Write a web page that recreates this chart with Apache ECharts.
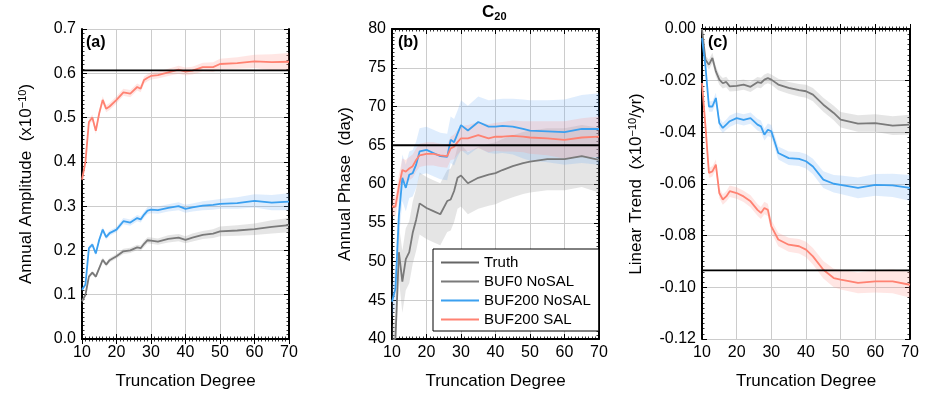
<!DOCTYPE html>
<html>
<head>
<meta charset="utf-8">
<script src="https://cdn.jsdelivr.net/npm/echarts@6/dist/echarts.min.js"></script>
<style>html,body{margin:0;padding:0;background:#fff}#main{width:932px;height:400px}</style>
</head>
<body>
<div id="main"></div>
<script>
// 截断阶数
var degrees = [10,11,12,13,14,15,16,17,18,20,22,24,26,27,28,29,30,32,35,38,40,42,45,48,50,55,60,65,70];

// (a) 年振幅
var ampTruth = 0.6065;
var ampBuf0 = [0.085,0.10,0.141,0.15,0.141,0.16,0.179,0.168,0.178,0.187,0.198,0.20,0.207,0.205,0.215,0.223,0.222,0.22,0.226,0.229,0.224,0.229,0.235,0.238,0.243,0.245,0.248,0.253,0.257];
var ampBuf200 = [0.111,0.123,0.205,0.213,0.193,0.224,0.247,0.23,0.239,0.247,0.266,0.263,0.273,0.27,0.281,0.29,0.292,0.291,0.296,0.30,0.294,0.297,0.301,0.303,0.305,0.307,0.312,0.308,0.31];
var ampSal = [0.36,0.40,0.49,0.50,0.47,0.51,0.54,0.52,0.525,0.54,0.557,0.554,0.569,0.565,0.585,0.59,0.594,0.596,0.602,0.608,0.604,0.606,0.614,0.614,0.621,0.623,0.627,0.625,0.626];
var ampBuf0Err = [0.004,0.004,0.004,0.004,0.004,0.005,0.005,0.005,0.005,0.005,0.006,0.006,0.006,0.006,0.007,0.007,0.007,0.007,0.008,0.008,0.008,0.009,0.009,0.01,0.011,0.012,0.013,0.015,0.016];
var ampBuf200Err = [0.004,0.004,0.005,0.005,0.005,0.005,0.006,0.006,0.006,0.006,0.007,0.007,0.007,0.007,0.007,0.008,0.008,0.008,0.008,0.009,0.009,0.009,0.01,0.011,0.011,0.013,0.015,0.017,0.019];
var ampSalErr = [0.005,0.006,0.007,0.007,0.007,0.008,0.008,0.008,0.008,0.008,0.008,0.008,0.008,0.008,0.008,0.008,0.008,0.008,0.008,0.009,0.009,0.009,0.01,0.011,0.012,0.013,0.015,0.018,0.02];

// (b) 年相位
var phTruth = 65;
var phBuf0 = [39.7,40.1,51.2,47.4,50.3,51.2,53.7,55.4,57.5,56.9,56.5,56.1,57.8,58,59.1,60.8,61.1,60.1,60.8,61.2,61.4,61.8,62.3,62.7,62.9,63.2,63.2,63.6,63.1];
var phBuf200 = [44.8,46.5,55.9,60.8,59.5,61.2,61.4,62.5,64.2,64.4,64,63.6,63.5,65.7,65.4,66.5,67.6,66.9,68,67.4,67.4,67.5,67.4,67.1,66.9,66.8,66.7,67.1,67.1];
var phSal = [57.1,57.1,59.7,61.8,61.6,62,62.3,63.1,63.7,63.9,63.9,63.7,63.6,64.6,64.8,65.4,65.9,65.9,66.3,65.9,66.1,66.1,66.2,66.1,66,65.9,65.7,66,66.1];
var phBuf0Err = [2,2.5,3.5,4,4,4,4,4,4,4,4,4,4,4,4,4,4,4,4,4,4,4,4,4,4,4,4,4,4.2];
var phBuf200Err = [2,2.5,3,3,3,3,3,3,3,3,3,3,3,3,3,3,3.2,3.2,3.3,3.4,3.5,3.5,3.6,3.8,3.9,4,4.2,4.4,4.6];
var phSalErr = [1.2,1.3,1.5,1.5,1.5,1.5,1.5,1.5,1.5,1.5,1.5,1.5,1.5,1.5,1.6,1.6,1.6,1.7,1.7,1.8,1.8,1.9,2,2,2.1,2.2,2.4,2.5,2.6];

// (c) 线性趋势
var trTruth = -0.0934;
var trBuf0 = [0,-0.0119,-0.0138,-0.0112,-0.0164,-0.0196,-0.021,-0.0205,-0.0222,-0.022,-0.0215,-0.0224,-0.0206,-0.0209,-0.0196,-0.019,-0.0196,-0.0215,-0.0228,-0.0237,-0.0241,-0.0254,-0.0293,-0.0325,-0.0351,-0.0366,-0.0364,-0.0374,-0.037];
var trBuf200 = [-0.0035,-0.0145,-0.030,-0.030,-0.0267,-0.0364,-0.0383,-0.037,-0.0357,-0.0345,-0.0352,-0.0345,-0.037,-0.0377,-0.0409,-0.039,-0.0396,-0.048,-0.050,-0.0503,-0.0512,-0.0532,-0.0583,-0.0599,-0.0603,-0.0615,-0.0603,-0.0605,-0.0615];
var trSal = [-0.0209,-0.0377,-0.0557,-0.0551,-0.0525,-0.0635,-0.066,-0.0648,-0.0628,-0.0635,-0.0648,-0.0667,-0.07,-0.0712,-0.0693,-0.07,-0.0764,-0.0815,-0.0835,-0.0841,-0.0854,-0.088,-0.0932,-0.0964,-0.097,-0.0983,-0.0977,-0.0977,-0.099];
var trBuf0Err = [0.0015,0.0015,0.002,0.002,0.002,0.002,0.002,0.002,0.002,0.002,0.002,0.002,0.002,0.002,0.002,0.002,0.002,0.0022,0.0023,0.0024,0.0025,0.0026,0.0027,0.0028,0.003,0.0032,0.0034,0.0036,0.0038];
var trBuf200Err = [0.0015,0.0018,0.002,0.002,0.002,0.002,0.002,0.002,0.0022,0.0022,0.0022,0.0022,0.0023,0.0023,0.0023,0.0024,0.0024,0.0025,0.0026,0.0027,0.0028,0.003,0.0032,0.0034,0.0036,0.004,0.0042,0.0045,0.005];
var trSalErr = [0.002,0.002,0.002,0.002,0.002,0.002,0.002,0.002,0.0022,0.0022,0.0022,0.0023,0.0023,0.0023,0.0024,0.0024,0.0025,0.0026,0.0027,0.0028,0.003,0.0032,0.0034,0.0036,0.0038,0.004,0.0043,0.0046,0.005];

var COLORS = {
	'BUF0 NoSAL': ['#7a7a7a', 'rgba(150,150,150,0.25)'],
	'BUF200 NoSAL': ['#3ba0f0', 'rgba(110,175,245,0.22)'],
	'BUF200 SAL': ['#ff8272', 'rgba(255,140,130,0.22)']
};
var FONT = 'Liberation Sans';

var myChart = echarts.init(document.getElementById('main'));

var grids = [
	{left: 82, width: 207, top: 29, height: 310},
	{left: 392, width: 207, top: 29, height: 310},
	{left: 702, width: 208, top: 29, height: 310}
];

var xAxes = [], yAxes = [], series = [];

function addAxes(i, ymin, ymax, yint, yfmt, yname, ygap) {
	var tick = {show: true, inside: true, length: 5, lineStyle: {color: '#000', width: 1}};
	var minor = {show: true, splitNumber: 10, length: 2.5, lineStyle: {color: '#000', width: 0.8}};
	var line = {show: true, lineStyle: {color: '#000', width: 2}};
	xAxes.push({
		gridIndex: i, type: 'value', min: 10, max: 70, interval: 10, position: 'bottom',
		name: 'Truncation Degree', nameLocation: 'middle', nameGap: 34,
		nameTextStyle: {fontSize: 17, fontFamily: FONT, color: '#000'},
		axisLine: line, axisTick: tick, minorTick: minor,
		axisLabel: {fontSize: 16, fontFamily: FONT, color: '#000', margin: 6},
		splitLine: {show: true, lineStyle: {color: '#ccc', width: 1}}
	});
	xAxes.push({
		gridIndex: i, type: 'value', min: 10, max: 70, interval: 10, position: 'top',
		axisLine: line, axisTick: tick, minorTick: minor, axisLabel: {show: false}, splitLine: {show: false}
	});
	yAxes.push({
		gridIndex: i, type: 'value', min: ymin, max: ymax, interval: yint, position: 'left',
		name: yname, nameLocation: 'middle', nameGap: ygap,
		nameTextStyle: {fontSize: 17, fontFamily: FONT, color: '#000',
			rich: {sup: {fontSize: 11, verticalAlign: 'top', padding: [0, 0, 8, 0], fontFamily: FONT}}},
		axisLine: line, axisTick: tick, minorTick: minor,
		axisLabel: {fontSize: 16, fontFamily: FONT, color: '#000', formatter: yfmt, margin: 6},
		splitLine: {show: true, lineStyle: {color: '#ccc', width: 1}}
	});
	yAxes.push({
		gridIndex: i, type: 'value', min: ymin, max: ymax, interval: yint, position: 'right',
		axisLine: line, axisTick: tick, minorTick: minor, axisLabel: {show: false}, splitLine: {show: false}
	});
}

// 误差带：用自定义系列画多边形
function bandSeries(xi, yi, vals, err, color) {
	var data = degrees.map(function(d, k) { return [d, vals[k] - err[k], vals[k] + err[k]]; });
	return {
		type: 'custom', xAxisIndex: xi, yAxisIndex: yi, silent: true, clip: true, z: 1,
		encode: {x: 0, y: [1, 2]},
		data: data,
		renderItem: function(params, api) {
			if (params.dataIndex !== 0) return;
			var upper = [], lower = [];
			data.forEach(function(p) {
				upper.push(api.coord([p[0], p[2]]));
				lower.unshift(api.coord([p[0], p[1]]));
			});
			return {
				type: 'polygon',
				shape: {points: upper.concat(lower)},
				style: {fill: color, stroke: 'none'}
			};
		}
	};
}

function addPanel(i, truth, sets) {
	var xi = i * 2, yi = i * 2;
	sets.forEach(function(s) {
		series.push(bandSeries(xi, yi, s[1], s[2], COLORS[s[0]][1]));
	});
	sets.forEach(function(s) {
		series.push({
			name: s[0], type: 'line', xAxisIndex: xi, yAxisIndex: yi, symbol: 'none',
			itemStyle: {color: COLORS[s[0]][0]}, lineStyle: {color: COLORS[s[0]][0], width: 1.8},
			data: degrees.map(function(d, k) { return [d, s[1][k]]; }), z: 3
		});
	});
	series.push({
		name: 'Truth', type: 'line', xAxisIndex: xi, yAxisIndex: yi, symbol: 'none',
		itemStyle: {color: '#666'}, lineStyle: {color: '#000', width: 1.8}, z: 4,
		data: [[10, truth], [70, truth]]
	});
}

addAxes(0, 0, 0.7, 0.1, function(v) { return v.toFixed(1); }, 'Annual Amplitude  (x10{sup|−10})', 46);
addAxes(1, 40, 80, 5, function(v) { return v; }, 'Annual Phase  (day)', 38);
addAxes(2, -0.12, 0, 0.02, function(v) { return v.toFixed(2); }, 'Linear Trend  (x10{sup|−10}/yr)', 56);

addPanel(0, ampTruth, [['BUF0 NoSAL', ampBuf0, ampBuf0Err], ['BUF200 NoSAL', ampBuf200, ampBuf200Err], ['BUF200 SAL', ampSal, ampSalErr]]);
addPanel(1, phTruth, [['BUF0 NoSAL', phBuf0, phBuf0Err], ['BUF200 NoSAL', phBuf200, phBuf200Err], ['BUF200 SAL', phSal, phSalErr]]);
addPanel(2, trTruth, [['BUF0 NoSAL', trBuf0, trBuf0Err], ['BUF200 NoSAL', trBuf200, trBuf200Err], ['BUF200 SAL', trSal, trSalErr]]);

var option = {
	animation: false,
	grid: grids,
	xAxis: xAxes,
	yAxis: yAxes,
	legend: {
		data: [{name: 'Truth', itemStyle: {color: '#666'}}, 'BUF0 NoSAL', 'BUF200 NoSAL', 'BUF200 SAL'],
		orient: 'vertical', left: 433, top: 249, width: 158,
		backgroundColor: '#fff', borderColor: '#000', borderWidth: 1, borderRadius: 0,
		padding: [6, 8, 4, 8], itemGap: 4, itemWidth: 38, itemHeight: 10,
		icon: 'path://M0,4 L40,4 L40,6 L0,6 Z',
		textStyle: {fontSize: 15, fontFamily: FONT, color: '#000'}
	},
	graphic: [
		{type: 'text', left: 86, top: 35, style: {text: '(a)', font: 'bold 16px "Liberation Sans"', fill: '#000'}},
		{type: 'text', left: 398, top: 35, style: {text: '(b)', font: 'bold 16px "Liberation Sans"', fill: '#000'}},
		{type: 'text', left: 708, top: 35, style: {text: '(c)', font: 'bold 16px "Liberation Sans"', fill: '#000'}},
		{type: 'text', left: 482, top: 4, style: {
			text: '{b|C}{s|20}', rich: {
				b: {font: 'bold 17px "Liberation Sans"', fill: '#000'},
				s: {font: 'bold 11px "Liberation Sans"', fill: '#000', verticalAlign: 'bottom', padding: [8, 0, 0, 0]}
			}
		}}
	],
	series: series
};

option && myChart.setOption(option);
</script>
</body>
</html>
